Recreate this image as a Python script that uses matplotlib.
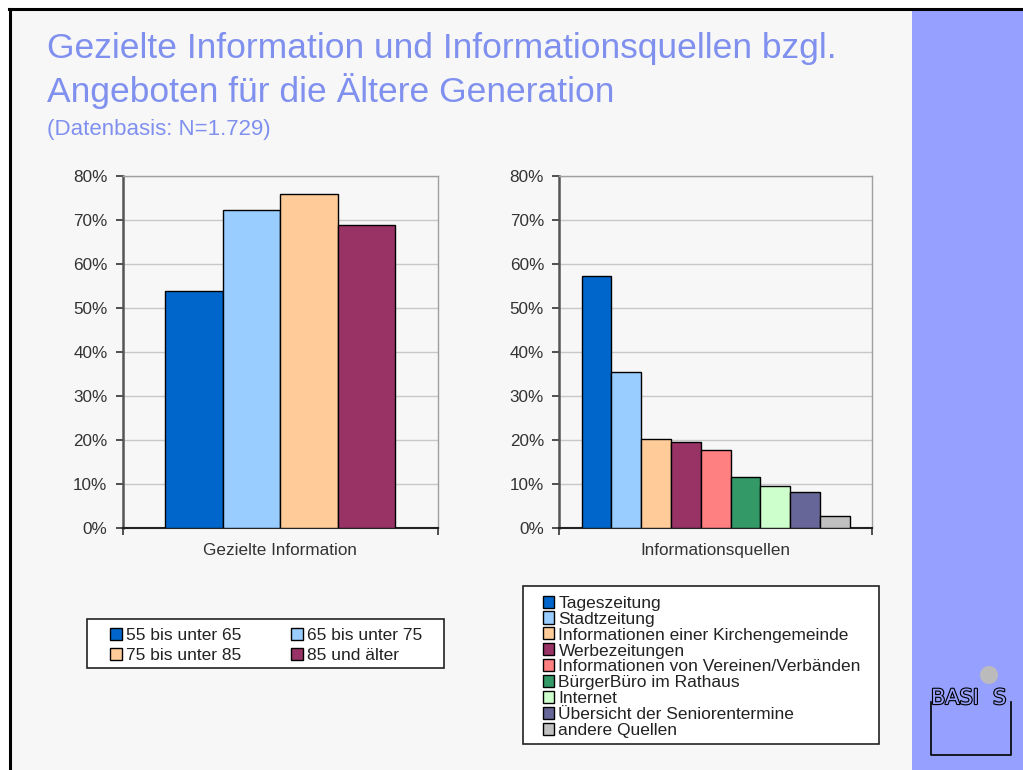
import matplotlib
matplotlib.use("Agg")
import matplotlib.pyplot as plt
import matplotlib.patheffects as pe
from matplotlib.patches import Rectangle, Ellipse
from matplotlib.lines import Line2D
from matplotlib.ticker import FuncFormatter

plt.rcParams['font.family'] = ['Liberation Sans', 'DejaVu Sans']

# ---- data ----
age_groups = ["55 bis unter 65", "65 bis unter 75", "75 bis unter 85", "85 und älter"]
targeted_info = [53.8, 72.3, 75.8, 68.9]

sources = ["Tageszeitung", "Stadtzeitung", "Informationen einer Kirchengemeinde",
           "Werbezeitungen", "Informationen von Vereinen/Verbänden",
           "BürgerBüro im Rathaus", "Internet", "Übersicht der Seniorentermine",
           "andere Quellen"]
source_share = [57.2, 35.6, 20.3, 19.6, 17.7, 11.7, 9.5, 8.3, 2.9]

age_colors = ["#0066CC", "#99CCFF", "#FFCC99", "#993366"]
source_colors = ["#0066CC", "#99CCFF", "#FFCC99", "#993366", "#FF8080",
                 "#339966", "#CCFFCC", "#666699", "#C0C0C0"]

y_ticks = [0, 10, 20, 30, 40, 50, 60, 70, 80]

W, H = 1023, 770
fig = plt.figure(figsize=(W / 100, H / 100), dpi=100, facecolor="white")


def fx(px):
    return px / W


def fy(py):
    return 1 - py / H


# slide background, side bar and frame lines
fig.patches.append(Rectangle((fx(11), 0), fx(912) - fx(11), fy(10), transform=fig.transFigure,
                             facecolor="#F7F7F7", edgecolor="none", zorder=-10))
fig.patches.append(Rectangle((fx(912), 0), 1 - fx(912), fy(10), transform=fig.transFigure,
                             facecolor="#96A0FF", edgecolor="none", zorder=-10))
fig.lines.append(Line2D([fx(9), 1], [fy(9), fy(9)], transform=fig.transFigure,
                        color="black", lw=2.2, zorder=-9))
fig.lines.append(Line2D([fx(10), fx(10)], [0, fy(9)], transform=fig.transFigure,
                        color="black", lw=2.2, zorder=-9))

title_color = "#8090EE"
fig.text(fx(47), fy(58), "Gezielte Information und Informationsquellen bzgl.",
         fontsize=25.5, color=title_color, va="baseline", ha="left")
fig.text(fx(47), fy(102), "Angeboten für die Ältere Generation",
         fontsize=25.5, color=title_color, va="baseline", ha="left")
fig.text(fx(47), fy(135), "(Datenbasis: N=1.729)",
         fontsize=16, color=title_color, va="baseline", ha="left")

pct = FuncFormatter(lambda v, p: f"{int(round(v))}%")


def style_axes(ax, xlabel):
    ax.set_facecolor("#F7F7F7")
    ax.set_ylim(0, 80)
    ax.set_xlim(-0.5, 0.5)
    ax.set_yticks(y_ticks)
    ax.yaxis.set_major_formatter(pct)
    ax.set_xticks([-0.5, 0.5])
    ax.set_xticklabels(["", ""])
    ax.tick_params(axis="y", direction="out", length=5, width=1.2, color="#333333",
                   labelsize=12.3, labelcolor="#333333", pad=6)
    ax.tick_params(axis="x", direction="out", length=5, width=1.2, color="#333333")
    ax.grid(axis="y", color="#C8C8C8", lw=1)
    ax.set_axisbelow(True)
    ax.spines["left"].set_color("#555555")
    ax.spines["left"].set_linewidth(1.8)
    ax.spines["bottom"].set_color("#222222")
    ax.spines["bottom"].set_linewidth(1.5)
    for s in ("top", "right"):
        ax.spines[s].set_color("#A0A0A0")
        ax.spines[s].set_linewidth(1.0)
    ax.set_xlabel(xlabel, fontsize=12.3, color="#333333", labelpad=2)


# left chart: targeted information by age group
ax1 = fig.add_axes([fx(122.7), fy(528.3), fx(438) - fx(122.7), fy(176) - fy(528.3)])
w1 = 0.1824
bars1 = []
for i, (lab, v, c) in enumerate(zip(age_groups, targeted_info, age_colors)):
    b = ax1.bar((i - 1.5) * w1, v, width=w1, color=c, edgecolor="black", linewidth=1.0,
                label=lab, zorder=3)
    bars1.append(b)
style_axes(ax1, "Gezielte Information")

# right chart: information sources
ax2 = fig.add_axes([fx(559.3), fy(528.3), fx(872) - fx(559.3), fy(176) - fy(528.3)])
w2 = 0.0953
bars2 = []
for i, (lab, v, c) in enumerate(zip(sources, source_share, source_colors)):
    b = ax2.bar((i - 4) * w2, v, width=w2, color=c, edgecolor="black", linewidth=1.0,
                label=lab, zorder=3)
    bars2.append(b)
style_axes(ax2, "Informationsquellen")

# legend boxes
fig.patches.append(Rectangle((fx(86.7), fy(668.3)), fx(444) - fx(86.7), fy(619.3) - fy(668.3),
                             transform=fig.transFigure, facecolor="white",
                             edgecolor="#222222", lw=1.2, zorder=-5))
fig.patches.append(Rectangle((fx(523.3), fy(744)), fx(879.3) - fx(523.3), fy(585.7) - fy(744),
                             transform=fig.transFigure, facecolor="white",
                             edgecolor="#222222", lw=1.2, zorder=-5))

leg_kw = dict(frameon=False, fontsize=12.5, handlelength=0.69, handleheight=0.69,
              handletextpad=0.23, borderpad=0, borderaxespad=0,
              labelcolor="#222222")
# two columns filled row by row
order = [0, 2, 1, 3]
fig.legend(handles=[bars1[k] for k in order], labels=[age_groups[k] for k in order],
           ncol=2, loc="upper left", bbox_to_anchor=(fx(110), fy(628)),
           columnspacing=2.85, labelspacing=0.28, **leg_kw)
fig.legend(handles=bars2, labels=sources, ncol=1, loc="upper left",
           bbox_to_anchor=(fx(542.5), fy(595.5)), labelspacing=0.05, **leg_kw)

# logo in the side bar
stroke = [pe.withStroke(linewidth=1.6, foreground="black")]
logo_font = dict(fontsize=15, color="#96A0FF", family="Liberation Sans Narrow",
                 ha="left", va="baseline", path_effects=stroke)
fig.text(fx(931), fy(704), "BASI", **logo_font)
fig.text(fx(993), fy(704), "S", **logo_font)
fig.patches.append(Ellipse((fx(989), fy(675)), 18 / W, 18 / H, transform=fig.transFigure,
                           facecolor="#BBBBBB", edgecolor="none"))
fig.lines.append(Line2D([fx(931), fx(931), fx(1010.5), fx(1010.5)],
                        [fy(702), fy(755), fy(755), fy(702)],
                        transform=fig.transFigure, color="black", lw=1.2))

fig.savefig("out.png", dpi=100, facecolor="white")
